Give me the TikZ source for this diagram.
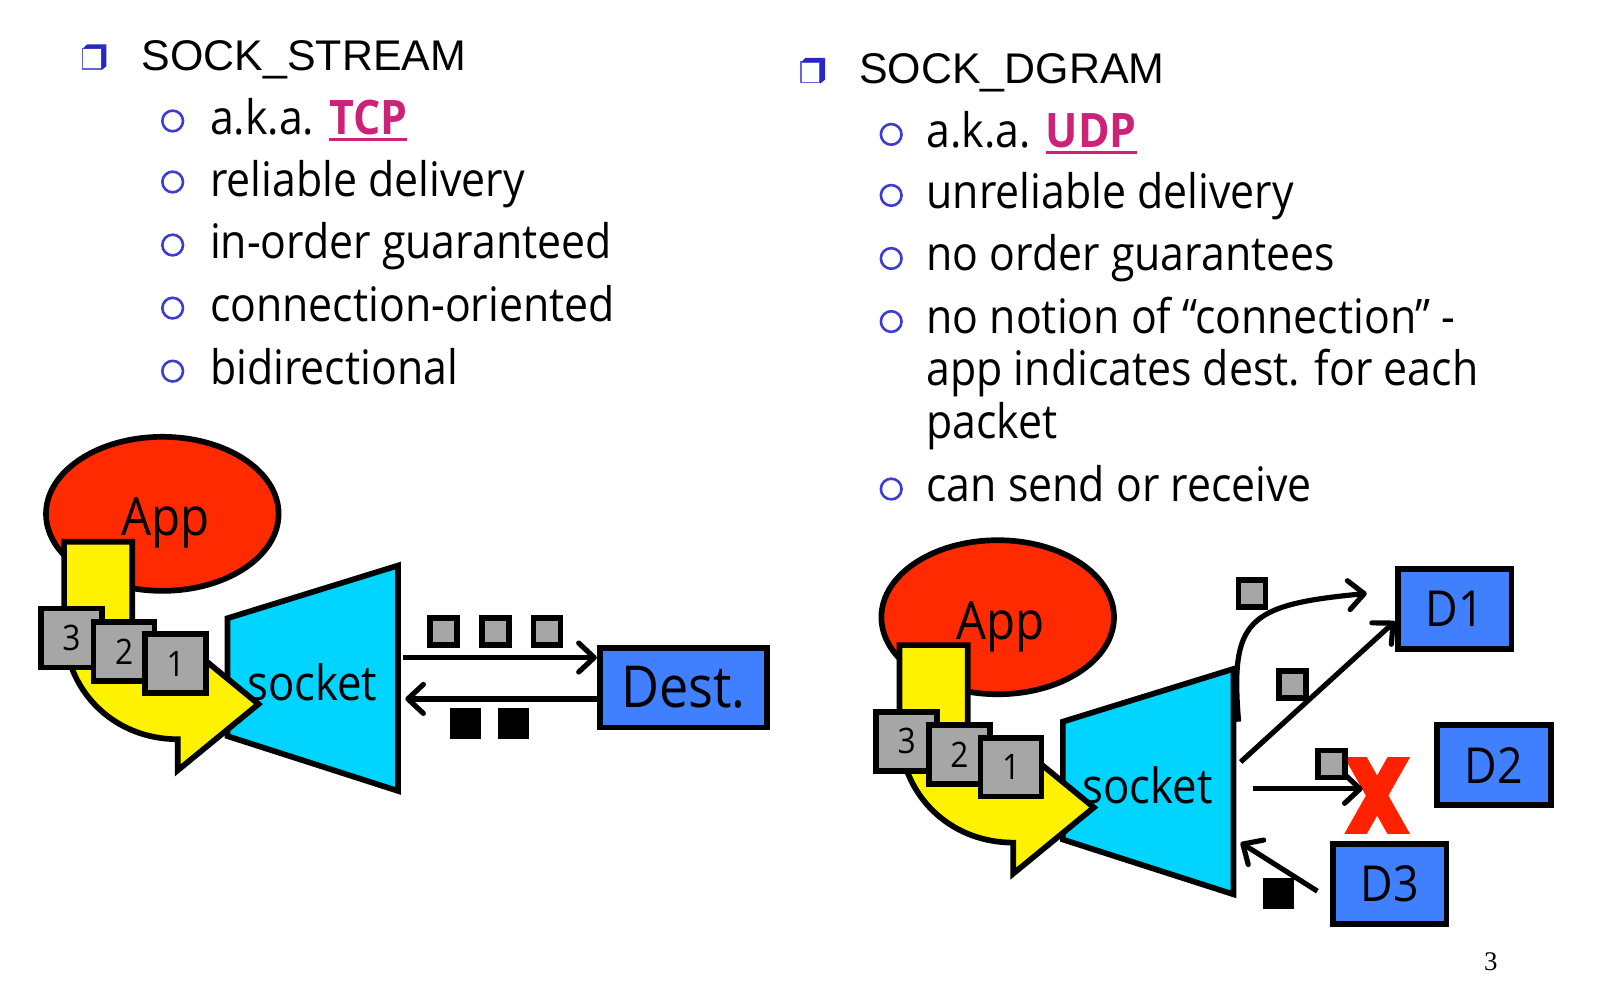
\documentclass[tikz,border=0pt]{standalone}
\usepackage{fontspec}
\setmainfont[FakeStretch=0.9]{Open Sans}
\newfontfamily\headfont{Liberation Sans}
\newfontfamily\numfont{Liberation Serif}
\usetikzlibrary{shapes.geometric,arrows.meta}
\definecolor{appred}{RGB}{255,42,0}
\definecolor{sockcyan}{RGB}{0,212,255}
\definecolor{pgray}{RGB}{166,166,166}
\definecolor{boxblue}{RGB}{64,128,255}
\definecolor{bulblue}{RGB}{60,60,210}
\definecolor{buldark}{RGB}{40,40,190}
\definecolor{tcpc}{RGB}{204,34,119}
\definecolor{xred}{RGB}{255,34,0}
\newcommand{\myul}[1]{\setbox0=\hbox{#1}\rlap{\raisebox{-6pt}{\rule{\wd0}{2.5pt}}}\box0}
\newcommand{\appgroup}{%
  \node[appell] (app) at (157,497) {};
  \draw[sockstyle] (220,598) -- (385,547) -- (385,765) -- (220,712) -- cycle;
  \draw[yarrow] (62,524) -- (62,605) .. controls (62,668) and (110,715) .. (172,715)
     -- (172,745) -- (250,681) -- (172,617) -- (172,649)
     .. controls (150,649) and (128,630) .. (128,605) -- (128,524) -- cycle;
  \node[pkt] (p3) at (69,617) {3};
  \node[pkt] (p2) at (120,630) {2};
  \node[pkt] (p1) at (170,642) {1};
  \node[lbl,font=\fontsize{51}{55}\selectfont] (applbl) at (160,506) {App};
  \node[lbl,font=\fontsize{47}{50}\selectfont] (socklbl) at (302,660) {socket};
}
\begin{document}
\begin{tikzpicture}[x=1pt,y=-1pt,
  body/.style={anchor=base west, inner sep=0, font=\fontsize{46}{50}\selectfont},
  head/.style={anchor=base west, inner sep=0, font=\headfont\fontsize{41.5}{45}\selectfont},
  bul/.style={draw=bulblue, line width=2.5pt, circle, minimum size=20pt, inner sep=0},
  appell/.style={ellipse, draw, line width=5.5pt, fill=appred, minimum width=225pt, minimum height=149pt, inner sep=0},
  sockstyle/.style={draw, line width=5.5pt, fill=sockcyan, line join=miter},
  yarrow/.style={draw, line width=5.5pt, fill=yellow, line join=miter},
  pkt/.style={draw, line width=5.5pt, fill=pgray, minimum width=59pt, minimum height=57pt, inner sep=0, font=\fontsize{34}{36}\selectfont},
  lbl/.style={inner sep=0},
  dbox/.style={draw, line width=5.5pt, fill=boxblue, minimum width=110pt, minimum height=77pt, inner sep=0, font=\fontsize{48}{50}\selectfont},
  gsq/.style={draw, line width=5.5pt, fill=pgray, minimum size=26pt, inner sep=0},
  bsq/.style={fill=black, minimum size=30pt, inner sep=0},
  arr/.style={line width=5pt, -{Straight Barb[length=15pt,width=28pt,round]}},
]
\useasboundingbox (0,0) rectangle (1564,966.3);
\fill[white] (0,0) rectangle (1564,966.3);

% ---------- left text ----------
\draw[bulblue!80, line width=1.5pt, fill=white] (80,47) rectangle (98,67);
\fill[buldark] (98,47) -- (103,43) -- (103,64) -- (98,68) -- cycle;
\fill[buldark] (80,47) -- (84,43) -- (103,43) -- (98,47) -- cycle;
\node[head] (h1) at (137,68) {SOCK\_STREAM};
\node[bul] (l1) at (167,117) {};
\node[bul] (l2) at (167,176) {};
\node[bul] (l3) at (167,237) {};
\node[bul] (l4) at (167,298) {};
\node[bul] (l5) at (167,359) {};
\node[body] (t1) at (203,130) {a.k.a. \textcolor{tcpc}{\bfseries\myul{TCP}}};
\node[body] (t2) at (203,190) {reliable delivery};
\node[body] (t3) at (203,250) {in-order guaranteed};
\node[body] (t4) at (203,311) {connection-oriented};
\node[body] (t5) at (203,372) {bidirectional};

% ---------- right text ----------
\draw[bulblue!80, line width=1.5pt, fill=white] (775,60) rectangle (793,80);
\fill[buldark] (793,60) -- (798,56) -- (798,77) -- (793,81) -- cycle;
\fill[buldark] (775,60) -- (779,56) -- (798,56) -- (793,60) -- cycle;
\node[head] (h2) at (831,81) {SOCK\_DGRAM};
\node[bul] (r1) at (862,130) {};
\node[bul] (r2) at (862,189) {};
\node[bul] (r3) at (862,250) {};
\node[bul] (r4) at (862,311) {};
\node[bul] (r5) at (862,473) {};
\node[body] (u1) at (896,143) {a.k.a. \textcolor{tcpc}{\bfseries\myul{UDP}}};
\node[body] (u2) at (896,202) {unreliable delivery};
\node[body] (u3) at (896,262) {no order guarantees};
\node[body] (u4) at (896,323) {no notion of “connection” -};
\node[body] (u4b) at (896,373) {app indicates dest. for each};
\node[body] (u4c) at (896,424) {packet};
\node[body] (u5) at (896,485) {can send or receive};

% ---------- left diagram ----------
\begin{scope}[name prefix=L-]
\appgroup
\end{scope}
\node[dbox, minimum width=162pt, font=\fontsize{56}{58}\selectfont] (dest) at (661,665) {Dest.};
\coordinate (ls1) at (390,636);
\coordinate (ls2) at (392,676);
\draw[arr] (ls1) -- (ls1 -| dest.west);
\draw[arr] (dest.west |- ls2) -- (ls2);
\node[gsq] (g1) at (429,611) {};
\node[gsq] (g2) at (479,611) {};
\node[gsq] (g3) at (529,611) {};
\node[bsq] (k1) at (450,700) {};
\node[bsq] (k2) at (497,700) {};

% ---------- right diagram ----------
\begin{scope}[shift={(808,100)}, name prefix=R-]
\appgroup
\end{scope}
\node[dbox] (D1) at (1407,589) {D1};
\node[dbox] (D2) at (1445,740) {D2};
\node[dbox] (D3) at (1344,855) {D3};
\begin{scope}
\clip (1290,733) rectangle (1375,806);
\draw[xred, line width=19pt] (1303,718) -- (1361,821);
\draw[xred, line width=19pt] (1361,718) -- (1303,821);
\end{scope}
\coordinate (c1s) at (1198,698);
\coordinate (c1e) at (1322,574);
\coordinate (c2s) at (1200,737);
\coordinate (c3s) at (1212,763);
\coordinate (c3e) at (1318,763);
\coordinate (c4e) at (1200,815);
\draw[arr] (c1s) .. controls (1190,600) and (1205,585) .. (c1e);
\draw[arr] (c2s) -- ([yshift=-12pt]D1.west);
\draw[arr] (c3s) -- (c3e);
\draw[arr] ([xshift=-12pt,yshift=-7pt]D3.west) -- (c4e);
\node[gsq] (g4) at (1211,574) {};
\node[gsq] (g5) at (1250,662) {};
\node[gsq] (g6) at (1288,739) {};
\node[bsq] (k3) at (1237,864) {};

\node[font=\numfont\fontsize{26}{28}\selectfont] (pg) at (1442,930) {3};
\end{tikzpicture}
\end{document}
